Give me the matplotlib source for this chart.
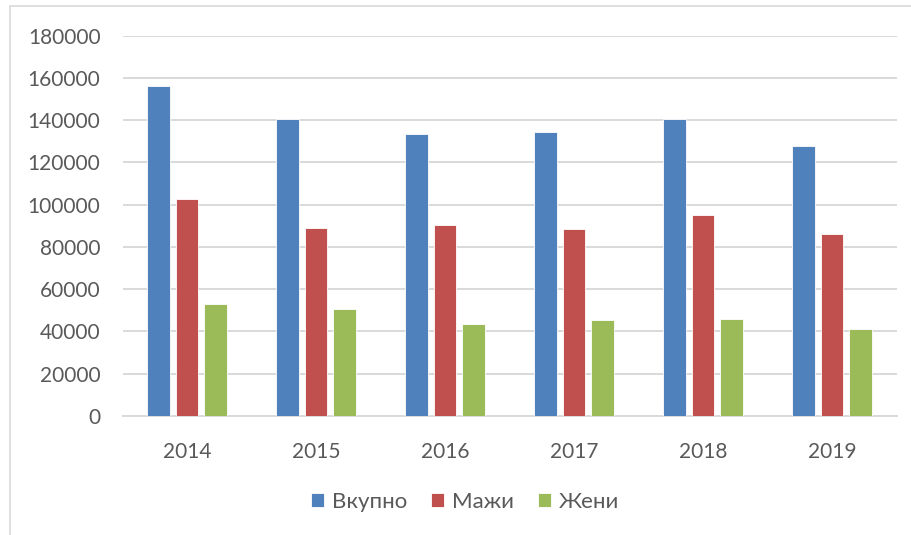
import matplotlib
matplotlib.use("Agg")
import matplotlib.pyplot as plt
import numpy as np
from matplotlib.patches import Rectangle

years = ["2014", "2015", "2016", "2017", "2018", "2019"]
series_names = ["Вкупно", "Мажи", "Жени"]
vkupno = [156000, 140700, 133600, 134200, 140700, 127800]
mazhi = [102700, 89200, 90200, 88700, 95000, 86200]
zheni = [53200, 50800, 43500, 45300, 45800, 41300]
yticks = [0, 20000, 40000, 60000, 80000, 100000, 120000, 140000, 160000, 180000]

colors = ["#4F81BD", "#C0504D", "#9BBB59"]
text_color = "#595959"
grid_color = "#D9D9D9"

plt.rcParams['font.family'] = ['Lato', 'DejaVu Sans']

fig = plt.figure(figsize=(9.12, 5.35), dpi=100)
ax = fig.add_axes([122.7/912, 1-416/535, (896.7-122.7)/912, (416-35.7)/535])

x = np.arange(len(years))
bw = 0.174
step = 0.221
for i, (vals, name) in enumerate(zip([vkupno, mazhi, zheni], series_names)):
    ax.bar(x + (i-1)*step, vals, width=bw, color=colors[i], label=name,
           edgecolor="white", linewidth=0.6, zorder=3)

ax.set_xlim(-0.5, len(years)-0.5)
ax.set_ylim(0, 180000)
ax.set_yticks(yticks)
ax.set_yticklabels([str(v) for v in yticks])
ax.set_xticks(x)
ax.set_xticklabels(years)
ax.yaxis.grid(True, color=grid_color, linewidth=1.4, zorder=0)
ax.set_axisbelow(True)
for s in ["top", "right", "left"]:
    ax.spines[s].set_visible(False)
ax.spines["bottom"].set_color(grid_color)
ax.spines["bottom"].set_linewidth(1.4)
ax.tick_params(axis="both", length=0, colors=text_color, labelsize=15)
ax.tick_params(axis="y", pad=16)
ax.tick_params(axis="x", pad=19)

leg = fig.legend(loc="center", bbox_to_anchor=(0.51, 1-502/535), ncol=3, frameon=False,
                 handlelength=0.58, handleheight=0.58, handletextpad=0.35,
                 columnspacing=1.1, fontsize=16)
for t in leg.get_texts():
    t.set_color(text_color)

# outer chart border (partly cropped)
fig.patches.append(Rectangle((10/912, -0.05), 2, 1-6/535+0.05, transform=fig.transFigure,
                             fill=False, edgecolor=grid_color, linewidth=1.2))

fig.savefig("out.png", dpi=100)
